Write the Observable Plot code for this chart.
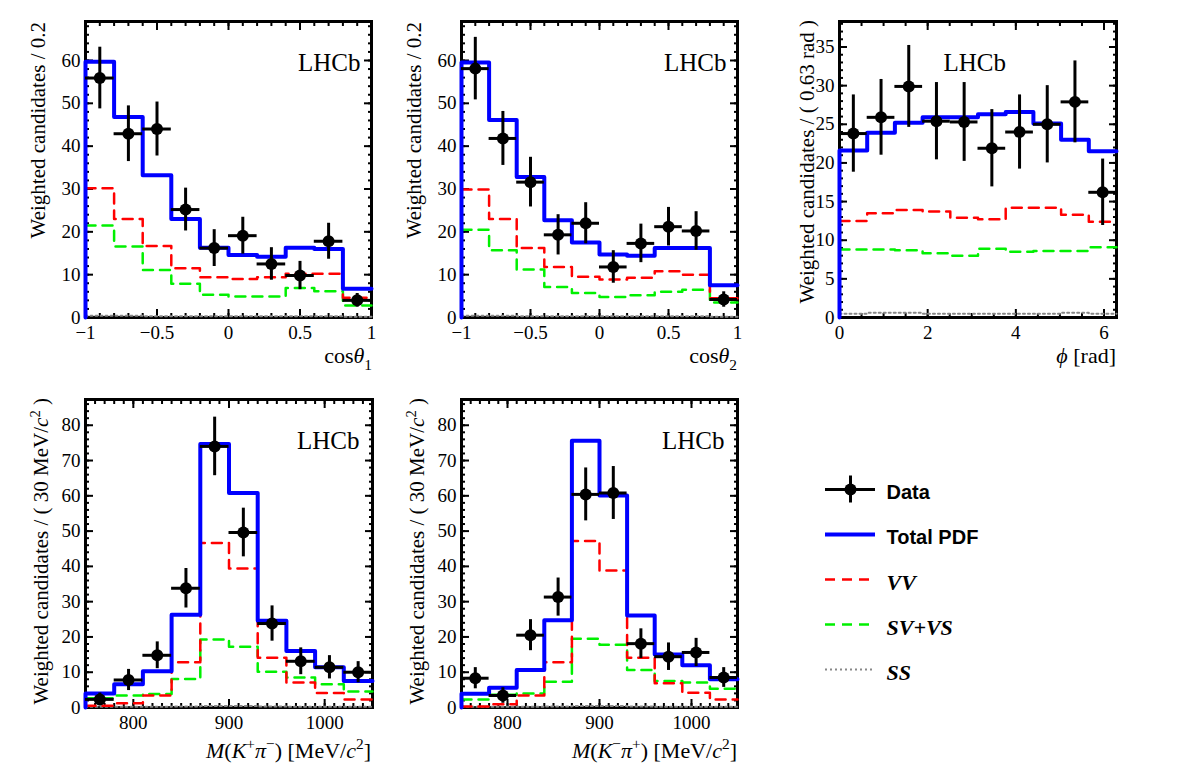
<!DOCTYPE html>
<html><head><meta charset="utf-8">
<script src="https://cdn.jsdelivr.net/npm/d3@7"></script>
<script src="https://cdn.jsdelivr.net/npm/@observablehq/plot@0.6"></script>
<style>
body{margin:0;background:#fff;}
#wrap{position:relative;width:1182px;height:784px;overflow:hidden;background:#fff;}
.pl{position:absolute;}
</style></head><body><div id="wrap"></div>
<script>
// ---------- bin edges ----------
const cosEdges = [-1, -0.8, -0.6, -0.4, -0.2, 0, 0.2, 0.4, 0.6, 0.8, 1];
const phiEdges = [0, 0.6283, 1.2566, 1.885, 2.5133, 3.1416, 3.7699, 4.3982, 5.0265, 5.6549, 6.2832];
const massEdges = [750, 780, 810, 840, 870, 900, 930, 960, 990, 1020, 1050];

// ---------- cos(theta1) ----------
const data1 = [55.9, 42.9, 44.0, 25.2, 16.2, 19.1, 12.5, 9.8, 17.8, 4.0];
const err1 = [7.2, 6.5, 6.3, 5.0, 4.3, 4.3, 3.8, 3.3, 4.2, 1.6];
const total1 = [59.7, 46.8, 33.2, 23.0, 16.3, 14.6, 14.2, 16.3, 16.0, 6.7];
const vv1 = [30.2, 23.0, 16.7, 11.5, 9.4, 9.0, 9.4, 10.2, 10.2, 4.6];
const svvs1 = [21.5, 16.6, 11.1, 7.9, 5.3, 4.9, 4.9, 6.9, 6.1, 2.8];
const ss1 = [0.4, 0.4, 0.3, 0.3, 0.3, 0.3, 0.3, 0.3, 0.3, 0.2];

// ---------- cos(theta2) ----------
const data2 = [58.1, 41.8, 31.6, 19.3, 22.0, 11.8, 17.3, 21.2, 20.2, 4.2];
const err2 = [7.3, 6.3, 5.8, 4.7, 4.8, 3.8, 4.5, 4.5, 4.5, 1.8];
const total2 = [59.5, 46.1, 32.8, 22.7, 17.5, 14.7, 14.4, 16.2, 16.2, 7.5];
const vv2 = [29.9, 23.0, 16.2, 11.8, 9.5, 8.9, 9.3, 10.8, 10.0, 4.5];
const svvs2 = [20.5, 15.7, 11.2, 7.1, 5.7, 4.8, 5.2, 6.0, 6.5, 3.5];
const ss2 = [0.4, 0.4, 0.3, 0.3, 0.3, 0.3, 0.3, 0.3, 0.3, 0.2];

// ---------- phi ----------
const data3 = [23.8, 25.9, 29.9, 25.4, 25.3, 21.9, 24.0, 25.0, 27.9, 16.2];
const err3 = [5.0, 4.9, 5.3, 5.0, 5.1, 5.0, 4.8, 5.0, 5.3, 4.3];
const total3 = [21.6, 23.9, 25.2, 25.9, 25.9, 26.3, 26.6, 25.1, 23.0, 21.5];
const vv3 = [12.5, 13.5, 13.9, 13.7, 12.9, 12.7, 14.2, 14.2, 13.3, 12.4];
const svvs3 = [8.8, 8.8, 8.7, 8.3, 8.0, 8.9, 8.5, 8.6, 8.6, 9.1];
const ss3 = [0.5, 0.6, 0.6, 0.5, 0.5, 0.5, 0.5, 0.5, 0.6, 0.5];

// ---------- M(K+ pi-) ----------
const data4 = [2.3, 7.8, 14.8, 33.8, 74.0, 49.6, 23.8, 13.1, 11.4, 10.0];
const err4 = [1.8, 3.0, 3.8, 5.6, 8.3, 6.9, 5.0, 3.8, 3.3, 3.0];
const total4 = [4.0, 6.6, 10.3, 26.3, 74.7, 60.8, 24.6, 16.0, 11.4, 7.5];
const vv4 = [0.5, 1.2, 3.4, 12.8, 46.6, 39.4, 14.1, 7.1, 4.1, 2.3];
const svvs4 = [2.6, 3.4, 3.8, 8.1, 19.3, 17.2, 10.1, 8.5, 6.6, 4.5];
const ss4 = [0.2, 0.2, 0.2, 0.3, 0.4, 0.4, 0.3, 0.2, 0.2, 0.2];

// ---------- M(K- pi+) ----------
const data5 = [8.3, 3.4, 20.5, 31.3, 60.4, 60.8, 18.1, 14.4, 15.6, 8.5];
const err5 = [3.0, 2.2, 4.4, 5.4, 7.5, 7.5, 4.2, 3.9, 4.0, 2.8];
const total5 = [3.9, 5.6, 10.6, 24.7, 75.6, 60.1, 26.1, 15.0, 12.0, 8.0];
const vv5 = [0.3, 0.9, 3.4, 12.8, 47.2, 38.8, 14.1, 6.9, 4.2, 2.3];
const svvs5 = [2.3, 3.6, 4.0, 7.3, 19.5, 17.8, 10.6, 7.5, 7.1, 5.3];
const ss5 = [0.2, 0.2, 0.2, 0.3, 0.4, 0.4, 0.3, 0.2, 0.2, 0.2];

// ---------- ticks ----------
const cosTicks = [-1, -0.5, 0, 0.5, 1];
const phiTicks = [0, 2, 4, 6];
const massTicks = [800, 900, 1000];
const yTicks60 = [0, 10, 20, 30, 40, 50, 60];
const yTicks35 = [0, 5, 10, 15, 20, 25, 30, 35];
const yTicks80 = [0, 10, 20, 30, 40, 50, 60, 70, 80];

// ---------- legend ----------
const legendNames = ["Data", "Total PDF", "VV", "SV+VS", "SS"];

const wrap = d3.select("#wrap");
const SERIF = "'Liberation Serif', 'Times New Roman', serif";
const SANS = "'Liberation Sans', Arial, sans-serif";
const fmt = d => String(d).replace("-", "\u2212");

function panel(cfg) {
  const {box, frame, xDomain, yDomain, xTicks, xMinor, yTicks, yMinor, edges,
         data, err, total, vv, svvs, ss, lhcb} = cfg;
  const pts = data.map((v, i) => ({c: (edges[i] + edges[i + 1]) / 2, lo: edges[i], hi: edges[i + 1], v, e: err[i]}));
  const step = (vals, zero) => {
    const a = vals.map((v, i) => ({x: edges[i], y: v}));
    a.push({x: edges[edges.length - 1], y: vals[vals.length - 1]});
    if (zero) a.unshift({x: edges[0], y: 0});
    return a;
  };
  const blank = () => "";
  const tickAx = (ticks, anchor, size) => (anchor === "bottom" || anchor === "top")
    ? Plot.axisX(ticks, {anchor, tickSize: size, inset: size, tickFormat: blank, label: null, strokeWidth: 2})
    : Plot.axisY(ticks, {anchor, tickSize: size, inset: size, tickFormat: blank, label: null, strokeWidth: 2});
  const chart = Plot.plot({
    width: box.w, height: box.h,
    marginLeft: frame.l - box.x, marginRight: box.x + box.w - frame.r,
    marginTop: frame.t - box.y, marginBottom: box.y + box.h - frame.b,
    style: {fontFamily: SERIF, fontSize: "19px", color: "#000", background: "transparent", overflow: "visible", maxWidth: "none"},
    x: {domain: xDomain, label: null},
    y: {domain: yDomain, label: null},
    marks: [
      Plot.axisX(xTicks, {anchor: "bottom", tickSize: 0, tickPadding: 8, label: null, fontSize: 19, fontFamily: SERIF, tickFormat: fmt}),
      Plot.axisY(yTicks, {anchor: "left", tickSize: 0, tickPadding: 5, label: null, fontSize: 19, fontFamily: SERIF, tickFormat: fmt}),
      tickAx(xTicks, "bottom", 8), tickAx(xTicks, "top", 8),
      tickAx(xMinor, "bottom", 4), tickAx(xMinor, "top", 4),
      tickAx(yTicks, "left", 8), tickAx(yTicks, "right", 8),
      tickAx(yMinor, "left", 4), tickAx(yMinor, "right", 4),
      Plot.frame({stroke: "#000", strokeWidth: 3}),
      Plot.line(step(ss), {x: "x", y: "y", curve: "step-after", stroke: "#888", strokeWidth: 2, strokeDasharray: "2,3"}),
      Plot.line(step(svvs), {x: "x", y: "y", curve: "step-after", stroke: "#00f000", strokeWidth: 2.5, strokeDasharray: "10,7"}),
      Plot.line(step(vv), {x: "x", y: "y", curve: "step-after", stroke: "#ff0000", strokeWidth: 2.5, strokeDasharray: "10,7"}),
      Plot.line(step(total, true), {x: "x", y: "y", curve: "step-after", stroke: "#0000ff", strokeWidth: 4}),
      Plot.ruleY(pts, {y: "v", x1: "lo", x2: "hi", stroke: "#000", strokeWidth: 3}),
      Plot.ruleX(pts, {x: "c", y1: d => d.v - d.e, y2: d => d.v + d.e, stroke: "#000", strokeWidth: 3}),
      Plot.dot(pts, {x: "c", y: "v", r: 6, fill: "#000", stroke: null}),
      Plot.text(["LHCb"], {frameAnchor: lhcb.anchor, dx: lhcb.dx, dy: lhcb.dy, textAnchor: lhcb.ta,
        lineAnchor: "bottom", fontSize: 25, fontFamily: SERIF, fill: "#000"})
    ]
  });
  wrap.append(() => chart).attr("class", "pl").style("left", box.x + "px").style("top", box.y + "px");
}

const minor = (a, b, s) => d3.range(Math.round((b - a) / s) + 1).map(i => +(a + i * s).toFixed(4));

panel({box: {x: 0, y: 0, w: 390, h: 350}, frame: {l: 85, r: 371, t: 21, b: 317},
  xDomain: [-1, 1], yDomain: [0, 69.1], xTicks: cosTicks, xMinor: minor(-1, 1, 0.1),
  yTicks: yTicks60, yMinor: minor(0, 68, 2), edges: cosEdges,
  data: data1, err: err1, total: total1, vv: vv1, svvs: svvs1, ss: ss1,
  lhcb: {anchor: "top-right", dx: -11, dy: 49, ta: "end"}});
panel({box: {x: 395, y: 0, w: 360, h: 350}, frame: {l: 461, r: 737, t: 21, b: 317},
  xDomain: [-1, 1], yDomain: [0, 69.1], xTicks: cosTicks, xMinor: minor(-1, 1, 0.1),
  yTicks: yTicks60, yMinor: minor(0, 68, 2), edges: cosEdges,
  data: data2, err: err2, total: total2, vv: vv2, svvs: svvs2, ss: ss2,
  lhcb: {anchor: "top-right", dx: -11, dy: 49, ta: "end"}});
panel({box: {x: 770, y: 0, w: 400, h: 350}, frame: {l: 839, r: 1116, t: 21, b: 317},
  xDomain: [0, 6.2832], yDomain: [0, 38.3], xTicks: phiTicks, xMinor: minor(0, 6, 0.5),
  yTicks: yTicks35, yMinor: minor(0, 38, 1), edges: phiEdges,
  data: data3, err: err3, total: total3, vv: vv3, svvs: svvs3, ss: ss3,
  lhcb: {anchor: "top-left", dx: 104, dy: 49, ta: "start"}});
panel({box: {x: 0, y: 380, w: 390, h: 360}, frame: {l: 85, r: 372, t: 399, b: 707},
  xDomain: [750, 1050], yDomain: [0, 87.3], xTicks: massTicks, xMinor: minor(750, 1050, 10),
  yTicks: yTicks80, yMinor: minor(0, 86, 2), edges: massEdges,
  data: data4, err: err4, total: total4, vv: vv4, svvs: svvs4, ss: ss4,
  lhcb: {anchor: "top-right", dx: -13, dy: 49, ta: "end"}});
panel({box: {x: 395, y: 380, w: 360, h: 360}, frame: {l: 461, r: 737, t: 399, b: 707},
  xDomain: [750, 1050], yDomain: [0, 87.3], xTicks: massTicks, xMinor: minor(750, 1050, 10),
  yTicks: yTicks80, yMinor: minor(0, 86, 2), edges: massEdges,
  data: data5, err: err5, total: total5, vv: vv5, svvs: svvs5, ss: ss5,
  lhcb: {anchor: "top-right", dx: -13, dy: 49, ta: "end"}});

// ---------- legend ----------
const items = legendNames.map((name, i) => ({name, i}));
const legend = Plot.plot({
  width: 260, height: 240, margin: 0,
  style: {background: "transparent", overflow: "visible", maxWidth: "none"},
  x: {domain: [0, 1], range: [15, 65], axis: null},
  y: {domain: [0, 4], range: [29, 209], axis: null},
  marks: [
    Plot.ruleY(items.filter(d => d.i === 0), {y: "i", x1: 0, x2: 1, stroke: "#000", strokeWidth: 3}),
    Plot.ruleX(items.filter(d => d.i === 0), {x: 0.5, y1: d => d.i - 0.3, y2: d => d.i + 0.3, stroke: "#000", strokeWidth: 3}),
    Plot.dot(items.filter(d => d.i === 0), {x: 0.5, y: "i", r: 6, fill: "#000", stroke: null}),
    Plot.ruleY(items.filter(d => d.i === 1), {y: "i", x1: 0, x2: 1, stroke: "#0000ff", strokeWidth: 4}),
    Plot.ruleY(items.filter(d => d.i === 2), {y: "i", x1: 0, x2: 1, stroke: "#ff0000", strokeWidth: 2.5, strokeDasharray: "10,7"}),
    Plot.ruleY(items.filter(d => d.i === 3), {y: "i", x1: 0, x2: 1, stroke: "#00f000", strokeWidth: 2.5, strokeDasharray: "10,7"}),
    Plot.ruleY(items.filter(d => d.i === 4), {y: "i", x1: 0, x2: 0.95, stroke: "#888", strokeWidth: 2, strokeDasharray: "2,3"}),
    Plot.text(items.filter(d => d.i < 2), {x: 1, y: "i", text: "name", dx: 11, dy: 3, textAnchor: "start",
      fontFamily: SANS, fontWeight: "bold", fontSize: 20, fill: "#000"}),
    Plot.text(items.filter(d => d.i >= 2), {x: 1, y: "i", text: "name", dx: 11, dy: 3, textAnchor: "start",
      fontFamily: SERIF, fontWeight: "bold", fontStyle: "italic", fontSize: 22, fill: "#000"})
  ]
});
wrap.append(() => legend).attr("class", "pl").style("left", "810px").style("top", "460px");

// ---------- axis titles ----------
const ov = wrap.append("svg").attr("class", "pl").attr("width", 1182).attr("height", 784)
  .style("left", 0).style("top", 0).style("pointer-events", "none")
  .style("font-family", SERIF).attr("fill", "#000");

function rich(sel, parts, fs) {
  let shift = 0;
  for (const [t, s] of parts) {
    const ts = sel.append("tspan").text(t);
    let target = 0;
    if (s === "sup") { target = -0.4 * fs; ts.attr("font-size", fs * 0.7); }
    else if (s === "sub") { target = 0.3 * fs; ts.attr("font-size", fs * 0.7); }
    if (s === "i") ts.attr("font-style", "italic");
    if (target !== shift) { ts.attr("dy", target - shift); shift = target; }
  }
}
function ytitle(x, y, parts) {
  const t = ov.append("text").attr("transform", `translate(${x},${y}) rotate(-90)`)
    .attr("text-anchor", "end").attr("font-size", 21);
  rich(t, parts, 21);
}
function xtitle(x, y, parts) {
  const t = ov.append("text").attr("x", x).attr("y", y).attr("text-anchor", "end").attr("font-size", 22);
  rich(t, parts, 22);
}
ytitle(45, 22, [["Weighted candidates / 0.2"]]);
ytitle(421, 22, [["Weighted candidates / 0.2"]]);
ytitle(814, 20, [["Weighted candidates / ( 0.63 rad )"]]);
const massY = [["Weighted candidates / ( 30 MeV/"], ["c", "i"], ["2", "sup"], [" )"]];
ytitle(48, 398, massY);
ytitle(424, 398, massY);
xtitle(372, 363, [["cos"], ["θ", "i"], ["1", "sub"]]);
xtitle(737, 363, [["cos"], ["θ", "i"], ["2", "sub"]]);
xtitle(1116, 363, [["ϕ", "i"], [" [rad]"]]);
const massX = (a, b) => [["M", "i"], ["("], ["K", "i"], [a, "sup"], ["π", "i"], [b, "sup"], [") [MeV/"], ["c", "i"], ["2", "sup"], ["]"]];
xtitle(371, 758, massX("+", "−"));
xtitle(737, 758, massX("−", "+"));
</script></body></html>
